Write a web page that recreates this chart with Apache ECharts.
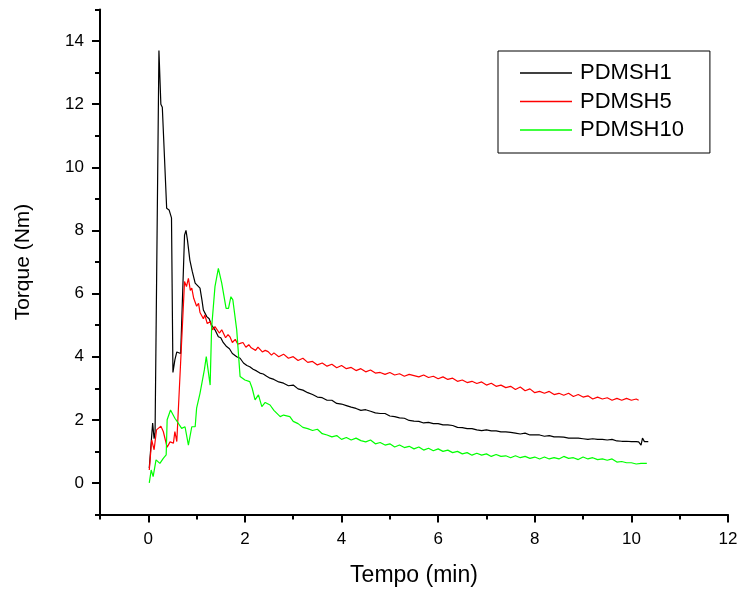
<!DOCTYPE html>
<html>
<head>
<meta charset="utf-8">
<script src="https://cdn.jsdelivr.net/npm/echarts@6/dist/echarts.min.js"></script>
<style>
html,body{margin:0;padding:0;background:#fff;}
#chart{width:742px;height:594px;}
</style>
</head>
<body>
<div id="chart"></div>
<script>
// ---- data (time in min, torque in Nm) ----
const seriesNames = ['PDMSH1', 'PDMSH5', 'PDMSH10'];

const t1 = [0.02,0.09,0.12,0.14,0.22,0.26,0.29,0.38,0.43,0.48,0.51,0.55,0.59,0.62,0.67,0.75,0.78,0.81,0.86,0.91,0.97,1.02,1.07,1.11,1.14,1.21,1.26,1.31,1.38,1.45,1.5,1.55,1.62,1.68,1.74,1.83,1.9,1.97,2.04,2.1,2.17,2.24,2.31,2.38,2.45,2.52,
  2.6,2.7,2.8,2.9,3.0,3.1,3.2,3.3,3.4,3.5,3.6,3.7,3.8,3.9,4.0,4.1,4.2,4.3,4.4,4.5,4.6,4.7,4.8,4.9,5.0,5.1,5.2,5.3,5.4,5.5,5.6,5.7,5.8,5.9,6.0,6.1,6.2,6.3,6.4,6.5,6.6,6.7,6.8,6.9,7.0,7.1,7.2,7.3,7.4,7.5,7.6,7.7,7.8,7.9,8.0,8.1,8.2,8.3,8.4,8.5,8.6,8.7,8.8,8.9,9.0,9.1,9.2,9.3,9.4,9.5,9.6,9.7,9.8,9.9,10.0,10.1,10.15,10.2,10.23,10.27,10.35];
const y1 = [0.47,1.9,1.4,1.6,13.7,12.0,11.9,8.7,8.65,8.4,3.5,3.9,4.15,4.2,4.1,7.85,8.0,7.7,7.06,6.7,6.33,6.25,6.17,5.8,5.48,5.27,5.2,5.0,4.85,4.63,4.6,4.45,4.32,4.25,4.1,4.0,3.95,3.8,3.72,3.68,3.6,3.55,3.48,3.45,3.38,3.32,
  3.28,3.2,3.16,3.08,3.1,2.98,2.94,2.86,2.8,2.72,2.7,2.62,2.62,2.52,2.5,2.45,2.4,2.36,2.3,2.32,2.27,2.22,2.2,2.2,2.12,2.1,2.06,2.05,1.98,1.96,1.95,1.9,1.92,1.88,1.88,1.84,1.84,1.82,1.76,1.75,1.72,1.72,1.68,1.66,1.68,1.65,1.65,1.62,1.62,1.6,1.58,1.55,1.58,1.52,1.52,1.52,1.48,1.5,1.46,1.46,1.45,1.42,1.42,1.42,1.4,1.38,1.4,1.38,1.38,1.36,1.38,1.33,1.32,1.32,1.31,1.31,1.3,1.2,1.42,1.31,1.31];

const t5 = [0.02,0.07,0.12,0.17,0.26,0.31,0.39,0.45,0.48,0.52,0.55,0.59,0.75,0.79,0.83,0.87,0.9,0.94,0.97,1.0,1.04,1.07,1.1,1.14,1.17,1.22,1.28,1.33,1.38,1.42,1.47,1.52,1.55,1.6,1.65,1.69,1.74,1.8,1.85,1.9,1.96,2.02,2.08,2.13,2.17,2.22,2.27,2.31,2.36,2.42,2.48,2.55,
  2.6,2.7,2.8,2.9,3.0,3.1,3.2,3.3,3.4,3.5,3.6,3.7,3.8,3.9,4.0,4.1,4.2,4.3,4.4,4.5,4.6,4.7,4.8,4.9,5.0,5.1,5.2,5.3,5.4,5.5,5.6,5.7,5.8,5.9,6.0,6.1,6.2,6.3,6.4,6.5,6.6,6.7,6.8,6.9,7.0,7.1,7.2,7.3,7.4,7.5,7.6,7.7,7.8,7.9,8.0,8.1,8.2,8.3,8.4,8.5,8.6,8.7,8.8,8.9,9.0,9.1,9.2,9.3,9.4,9.5,9.6,9.7,9.8,9.9,10.0,10.1,10.15];
const y5 = [0.41,1.36,1.05,1.68,1.8,1.63,1.13,1.3,1.36,1.26,1.63,1.31,6.38,6.22,6.48,6.1,6.17,5.85,5.9,5.6,5.69,5.4,5.43,5.2,5.32,5.05,5.11,4.85,4.95,4.9,4.75,4.85,4.79,4.6,4.7,4.63,4.45,4.55,4.4,4.42,4.45,4.3,4.38,4.28,4.32,4.2,4.3,4.27,4.15,4.2,4.16,4.05,
  4.12,4.0,4.08,3.95,4.0,3.88,3.95,3.82,3.85,3.74,3.8,3.7,3.76,3.65,3.72,3.62,3.66,3.56,3.62,3.52,3.58,3.48,3.5,3.44,3.5,3.42,3.46,3.38,3.44,3.4,3.36,3.42,3.34,3.38,3.3,3.36,3.28,3.32,3.22,3.26,3.18,3.22,3.15,3.2,3.1,3.16,3.06,3.1,3.02,3.06,2.96,3.04,2.92,2.98,2.86,2.9,2.84,2.9,2.8,2.84,2.78,2.84,2.74,2.8,2.72,2.76,2.66,2.72,2.66,2.7,2.62,2.68,2.62,2.68,2.62,2.66,2.62];

const t10 = [0.02,0.06,0.1,0.16,0.24,0.31,0.37,0.39,0.46,0.55,0.6,0.69,0.76,0.83,0.9,0.97,1.0,1.07,1.16,1.2,1.28,1.31,1.38,1.45,1.52,1.61,1.66,1.71,1.75,1.83,1.9,2.0,2.1,2.15,2.21,2.28,2.35,2.42,2.52,2.6,2.73,2.8,2.93,3.0,
  3.1,3.2,3.3,3.4,3.5,3.6,3.7,3.8,3.9,4.0,4.1,4.2,4.3,4.4,4.5,4.6,4.7,4.8,4.9,5.0,5.1,5.2,5.3,5.4,5.5,5.6,5.7,5.8,5.9,6.0,6.1,6.2,6.3,6.4,6.5,6.6,6.7,6.8,6.9,7.0,7.1,7.2,7.3,7.4,7.5,7.6,7.7,7.8,7.9,8.0,8.1,8.2,8.3,8.4,8.5,8.6,8.7,8.8,8.9,9.0,9.1,9.2,9.3,9.4,9.5,9.6,9.7,9.8,9.9,10.0,10.1,10.2,10.32];
const y10 = [0.0,0.41,0.2,0.73,0.62,0.78,0.89,2.0,2.31,2.05,1.94,1.73,1.78,1.2,1.78,1.78,2.37,2.84,3.58,4.0,3.1,4.9,6.22,6.8,6.33,5.53,5.53,5.9,5.8,4.85,3.37,3.26,3.21,3.0,2.63,2.79,2.42,2.55,2.47,2.3,2.1,2.15,2.1,1.95,
  1.88,1.76,1.72,1.66,1.7,1.56,1.52,1.46,1.5,1.38,1.44,1.36,1.42,1.34,1.3,1.36,1.24,1.28,1.2,1.24,1.14,1.2,1.12,1.16,1.08,1.14,1.04,1.1,1.02,1.08,1.0,1.04,0.96,1.0,0.92,0.96,0.88,0.94,0.88,0.92,0.84,0.9,0.84,0.86,0.8,0.86,0.8,0.84,0.78,0.82,0.76,0.82,0.76,0.8,0.76,0.84,0.78,0.8,0.74,0.82,0.76,0.8,0.74,0.76,0.72,0.76,0.66,0.68,0.64,0.64,0.6,0.62,0.62];

const xMajorTicks = [0,2,4,6,8,10,12];
const xMinorTicks = [-1,1,3,5,7,9,11];
const yMajorTicks = [0,2,4,6,8,10,12,14];
const yMinorTicks = [-1,1,3,5,7,9,11,13,15];
const xTitle = 'Tempo (min)';
const yTitle = 'Torque (Nm)';

// ---- chart ----
const pairs = (t, y) => t.map((v, i) => [v, y[i]]);
const colors = ['#000000', '#ff0000', '#00ff00'];
const FONT = 'Liberation Sans, Arial, sans-serif';

const chart = echarts.init(document.getElementById('chart'), null, {renderer: 'canvas'});

const axisCommon = {
  type: 'value',
  splitLine: {show: false},
  axisLine: {onZero: false, lineStyle: {color: '#000', width: 2}},
};

chart.setOption({
  animation: false,
  backgroundColor: '#fff',
  textStyle: {fontFamily: FONT, color: '#000'},
  grid: {left: 100, right: 14, top: 9.5, bottom: 79.5, containLabel: false, outerBoundsMode: 'none'},
  legend: {
    show: true,
    orient: 'vertical',
    left: 498, top: 51,
    padding: [11, 26, 12, 22],
    borderColor: '#000', borderWidth: 1,
    icon: 'path://M0,0 L52,0 L52,1.4 L0,1.4 Z',
    itemWidth: 52, itemHeight: 1.4, itemGap: 6.5,
    textStyle: {fontFamily: FONT, fontSize: 22, color: '#000', lineHeight: 22, padding: [0, 0, 0, 3]},
    data: seriesNames
  },
  xAxis: [
    Object.assign({}, axisCommon, {
      min: -1, max: 12, position: 'bottom',
      name: xTitle, nameLocation: 'middle', nameGap: 50,
      nameTextStyle: {fontFamily: FONT, fontSize: 23, color: '#000'},
      axisTick: {show: true, inside: false, length: 8, lineStyle: {color: '#000', width: 2}, customValues: xMajorTicks},
      axisLabel: {show: true, margin: 16, fontSize: 17, color: '#000', fontFamily: FONT, customValues: xMajorTicks}
    }),
    Object.assign({}, axisCommon, {
      min: -1, max: 12, position: 'bottom',
      axisLine: {show: false, onZero: false},
      axisTick: {show: true, inside: false, length: 5, lineStyle: {color: '#000', width: 2}, customValues: xMinorTicks},
      axisLabel: {show: false}
    })
  ],
  yAxis: [
    Object.assign({}, axisCommon, {
      min: -1, max: 15, position: 'left',
      name: yTitle, nameLocation: 'middle', nameGap: 66,
      nameTextStyle: {fontFamily: FONT, fontSize: 21, color: '#000'},
      axisTick: {show: true, inside: false, length: 8, lineStyle: {color: '#000', width: 2}, customValues: yMajorTicks},
      axisLabel: {show: true, margin: 16, fontSize: 17, color: '#000', fontFamily: FONT, customValues: yMajorTicks}
    }),
    Object.assign({}, axisCommon, {
      min: -1, max: 15, position: 'left',
      axisLine: {show: false, onZero: false},
      axisTick: {show: true, inside: false, length: 5, lineStyle: {color: '#000', width: 2}, customValues: yMinorTicks},
      axisLabel: {show: false}
    })
  ],
  series: [
    {name: seriesNames[0], type: 'line', data: pairs(t1, y1), xAxisIndex: 0, yAxisIndex: 0},
    {name: seriesNames[1], type: 'line', data: pairs(t5, y5), xAxisIndex: 0, yAxisIndex: 0},
    {name: seriesNames[2], type: 'line', data: pairs(t10, y10), xAxisIndex: 0, yAxisIndex: 0}
  ].map((s, i) => Object.assign(s, {
    symbol: 'none', showSymbol: false,
    lineStyle: {color: colors[i], width: 1.2},
    itemStyle: {color: colors[i]},
    emphasis: {disabled: true}
  }))
});
</script>
</body>
</html>
